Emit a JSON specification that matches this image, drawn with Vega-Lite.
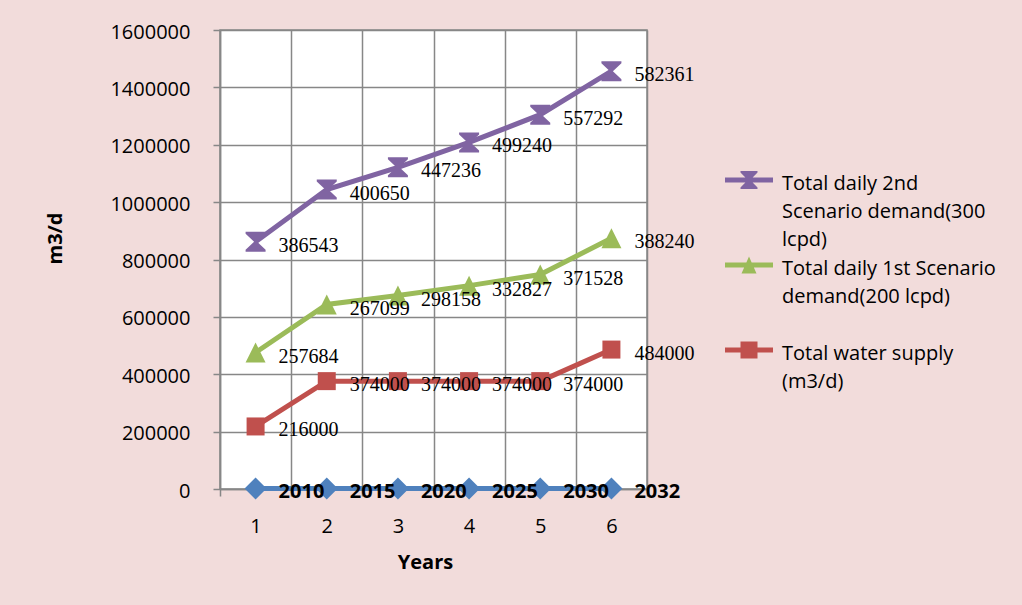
{
  "$schema": "https://vega.github.io/schema/vega-lite/v6.json",
  "width": 427,
  "height": 459,
  "autosize": {"type": "none"},
  "padding": {"left": 220, "top": 30, "right": 375, "bottom": 116},
  "background": "#f2dcdb",
  "config": {
    "view": {"fill": "white", "stroke": "#878787", "strokeWidth": 1.5},
    "axis": {
      "labelFont": "Open Sans",
      "labelFontSize": 20,
      "labelColor": "black",
      "titleFont": "Open Sans",
      "titleFontSize": 20,
      "titleFontWeight": "bold",
      "titleColor": "black",
      "tickSize": 7,
      "tickColor": "#878787",
      "tickWidth": 1.5,
      "domainColor": "#878787",
      "domainWidth": 1.5,
      "grid": true,
      "gridColor": "#878787",
      "gridWidth": 1.5
    }
  },
  "data": {
    "values": [
      {"x": 1, "series": "Year", "order": 0, "value": 2010},
      {"x": 2, "series": "Year", "order": 0, "value": 2015},
      {"x": 3, "series": "Year", "order": 0, "value": 2020},
      {"x": 4, "series": "Year", "order": 0, "value": 2025},
      {"x": 5, "series": "Year", "order": 0, "value": 2030},
      {"x": 6, "series": "Year", "order": 0, "value": 2032},
      {"x": 1, "series": "Total water supply (m3/d)", "order": 1, "value": 216000},
      {"x": 2, "series": "Total water supply (m3/d)", "order": 1, "value": 374000},
      {"x": 3, "series": "Total water supply (m3/d)", "order": 1, "value": 374000},
      {"x": 4, "series": "Total water supply (m3/d)", "order": 1, "value": 374000},
      {"x": 5, "series": "Total water supply (m3/d)", "order": 1, "value": 374000},
      {"x": 6, "series": "Total water supply (m3/d)", "order": 1, "value": 484000},
      {"x": 1, "series": "Total daily 1st Scenario demand(200 lcpd)", "order": 2, "value": 257684},
      {"x": 2, "series": "Total daily 1st Scenario demand(200 lcpd)", "order": 2, "value": 267099},
      {"x": 3, "series": "Total daily 1st Scenario demand(200 lcpd)", "order": 2, "value": 298158},
      {"x": 4, "series": "Total daily 1st Scenario demand(200 lcpd)", "order": 2, "value": 332827},
      {"x": 5, "series": "Total daily 1st Scenario demand(200 lcpd)", "order": 2, "value": 371528},
      {"x": 6, "series": "Total daily 1st Scenario demand(200 lcpd)", "order": 2, "value": 388240},
      {"x": 1, "series": "Total daily 2nd Scenario demand(300 lcpd)", "order": 3, "value": 386543},
      {"x": 2, "series": "Total daily 2nd Scenario demand(300 lcpd)", "order": 3, "value": 400650},
      {"x": 3, "series": "Total daily 2nd Scenario demand(300 lcpd)", "order": 3, "value": 447236},
      {"x": 4, "series": "Total daily 2nd Scenario demand(300 lcpd)", "order": 3, "value": 499240},
      {"x": 5, "series": "Total daily 2nd Scenario demand(300 lcpd)", "order": 3, "value": 557292},
      {"x": 6, "series": "Total daily 2nd Scenario demand(300 lcpd)", "order": 3, "value": 582361}
    ]
  },
  "transform": [
    {"stack": "value", "groupby": ["x"], "sort": [{"field": "order", "order": "ascending"}], "as": ["y0", "y1"]}
  ],
  "encoding": {
    "x": {
      "field": "x",
      "type": "ordinal",
      "scale": {"type": "band", "paddingInner": 0, "paddingOuter": 0},
      "axis": {
        "title": "Years",
        "titleX": 205,
        "titleY": 73,
        "titleBaseline": "middle",
        "labelAngle": 0,
        "labelPadding": 20,
        "tickBand": "extent"
      }
    },
    "y": {
      "field": "y1",
      "type": "quantitative",
      "scale": {"domain": [0, 1600000], "nice": false},
      "axis": {
        "title": "m3/d",
        "titleX": -165,
        "titleY": 208,
        "titleBaseline": "middle",
        "values": [0, 200000, 400000, 600000, 800000, 1000000, 1200000, 1400000, 1600000],
        "format": "d",
        "labelPadding": 23,
        "labelOffset": 2
      }
    }
  },
  "layer": [
    {
      "mark": {"type": "line", "strokeWidth": 5},
      "encoding": {
        "stroke": {
          "field": "series",
          "type": "nominal",
          "scale": {
            "domain": ["Total daily 2nd Scenario demand(300 lcpd)", "Total daily 1st Scenario demand(200 lcpd)", "Total water supply (m3/d)", "Year"],
            "range": ["#8064a2", "#9bbb59", "#c0504d", "#4f81bd"]
          },
          "legend": null
        }
      }
    },
    {
      "transform": [{"filter": "datum.series == 'Year'"}],
      "mark": {"type": "point", "shape": "diamond", "filled": true, "size": 484, "color": "#4f81bd", "opacity": 1}
    },
    {
      "transform": [{"filter": "datum.series == 'Total water supply (m3/d)'"}],
      "mark": {"type": "point", "shape": "square", "filled": true, "size": 324, "color": "#c0504d", "opacity": 1}
    },
    {
      "transform": [{"filter": "datum.series == 'Total daily 1st Scenario demand(200 lcpd)'"}],
      "mark": {"type": "point", "shape": "M0,-1L1,1H-1Z", "filled": true, "size": 400, "color": "#9bbb59", "opacity": 1}
    },
    {
      "transform": [{"filter": "datum.series == 'Total daily 2nd Scenario demand(300 lcpd)'"}],
      "mark": {"type": "point", "shape": "M-1,-1H1V-0.8L0.15,0L1,0.8V1H-1V0.8L-0.15,0L-1,-0.8Z", "filled": true, "size": 400, "color": "#8064a2", "opacity": 1}
    },
    {
      "mark": {"type": "point", "filled": true, "opacity": 0},
      "encoding": {
        "color": {
          "field": "series",
          "type": "nominal",
          "scale": {
            "domain": ["Year", "Total water supply (m3/d)", "Total daily 1st Scenario demand(200 lcpd)", "Total daily 2nd Scenario demand(300 lcpd)"],
            "range": ["#4f81bd", "#c0504d", "#9bbb59", "#8064a2"]
          },
          "legend": {
            "title": null,
            "orient": "none",
            "legendX": 519,
            "legendY": 140,
            "padding": 0,
            "values": ["Total daily 2nd Scenario demand(300 lcpd)", "Total daily 1st Scenario demand(200 lcpd)", "Total water supply (m3/d)"],
            "symbolSize": 400,
            "symbolStrokeWidth": 0,
            "symbolOpacity": 1,
            "gridAlign": "all",
            "rowPadding": 5,
            "labelFont": "Open Sans",
            "labelFontSize": 20,
            "labelColor": "black",
            "labelLimit": 400,
            "labelOffset": 23,
            "labelBaseline": "top",
            "labelExpr": "datum.value == 'Total daily 2nd Scenario demand(300 lcpd)' ? ['Total daily 2nd', 'Scenario demand(300', 'lcpd)'] : datum.value == 'Total daily 1st Scenario demand(200 lcpd)' ? ['Total daily 1st Scenario', 'demand(200 lcpd)'] : ['Total water supply', '(m3/d)']",
            "encoding": {"labels": {"lineHeight": {"value": 28}, "dy": {"value": -6.5}}}
          }
        },
        "shape": {
          "field": "series",
          "type": "nominal",
          "scale": {
            "domain": ["Year", "Total water supply (m3/d)", "Total daily 1st Scenario demand(200 lcpd)", "Total daily 2nd Scenario demand(300 lcpd)"],
            "range": [
              "diamond",
              "M-2.4,-0.25H2.4V0.25H-2.4Z M-0.85,-0.85H0.85V0.85H-0.85Z",
              "M-2.4,-0.25H2.4V0.25H-2.4Z M0,-0.85L0.75,0.85H-0.75Z",
              "M-2.4,-0.25H2.4V0.25H-2.4Z M-0.85,-0.9H0.85V-0.75L0.12,0L0.85,0.75V0.9H-0.85V0.75L-0.12,0L-0.85,-0.75Z"
            ]
          }
        }
      }
    },
    {
      "transform": [{"filter": "datum.series != 'Year'"}],
      "mark": {"type": "text", "align": "left", "baseline": "middle", "dx": 23, "dy": 4, "font": "Liberation Serif", "fontSize": 20, "color": "black"},
      "encoding": {"text": {"field": "value", "type": "quantitative", "format": "d"}}
    },
    {
      "transform": [{"filter": "datum.series == 'Year'"}],
      "mark": {"type": "text", "align": "left", "baseline": "middle", "dx": 23, "dy": 4, "font": "Open Sans", "fontWeight": "bold", "fontSize": 20, "color": "black"},
      "encoding": {"text": {"field": "value", "type": "quantitative", "format": "d"}}
    }
  ]
}
